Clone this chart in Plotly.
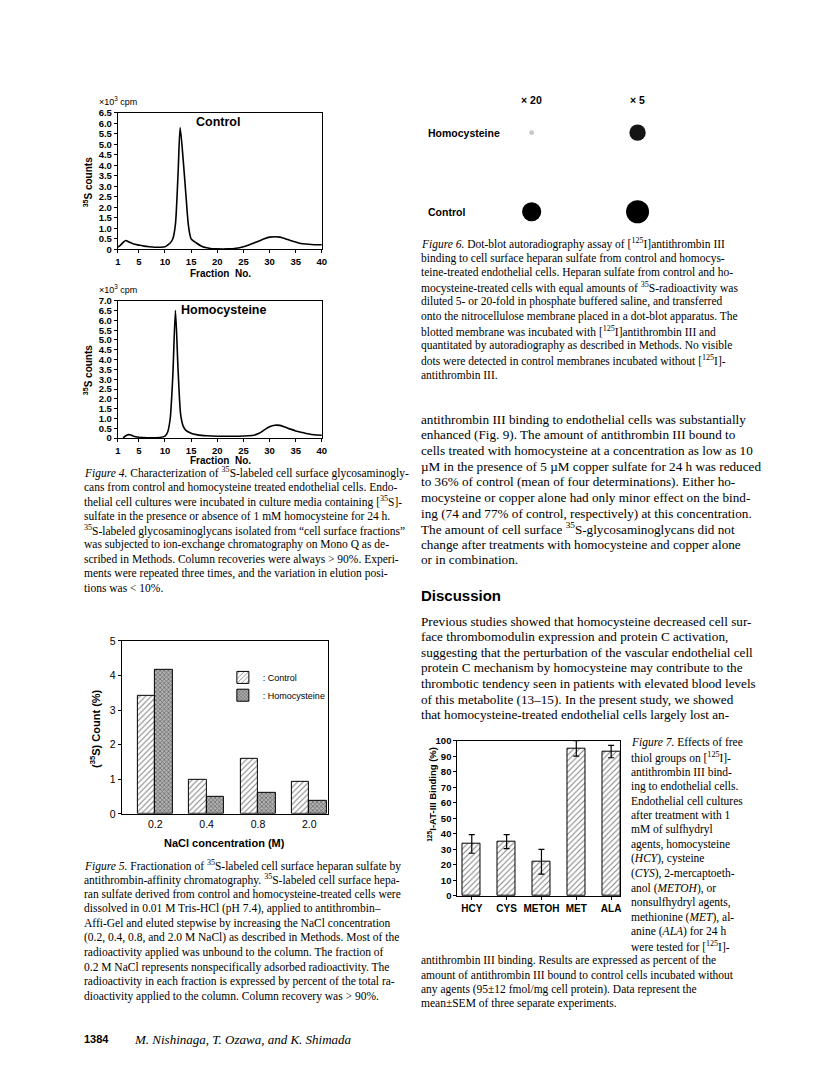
import plotly.graph_objects as go

# page is rendered with the default 8px body margin -> compensate
OFF = 8
W, H = 816 - 2 * OFF, 1078 - 2 * OFF
def px(x): return (x - OFF) / W
def py(y): return 1 - (y - OFF) / H

SANS = "Liberation Sans"
SERIF = "Liberation Serif"

# ---------------- DATA ----------------
# Figure 4 - Mono Q elution profiles (x10^3 cpm)
frac_control = [1, 1.5, 2, 2.5, 3, 4, 5, 6, 7, 8, 9, 10, 10.5, 11, 11.5, 12, 12.5, 12.9, 13.5, 14, 14.5,
                15, 16, 17, 18, 19, 20, 22, 23, 24, 25, 26, 27, 28, 29, 30, 31, 32, 33, 34, 35, 36, 37, 38, 39, 40]
counts_control = [0.1, 0.2, 0.33, 0.42, 0.36, 0.25, 0.2, 0.15, 0.12, 0.1, 0.1, 0.12, 0.2, 0.3, 0.5, 1.2, 3.6, 5.8, 4.2, 2.6, 1.1,
                  0.5, 0.3, 0.15, 0.07, 0.03, 0.02, 0.02, 0.03, 0.06, 0.12, 0.2, 0.3, 0.4, 0.5, 0.58, 0.6, 0.58, 0.5, 0.42,
                  0.35, 0.28, 0.25, 0.23, 0.22, 0.22]
frac_homo = [2, 2.5, 3, 3.5, 4, 5, 6, 7, 8, 9, 10, 10.5, 11, 11.5, 12, 12.5, 13, 13.5, 14, 15, 16, 17, 18, 20,
             22, 24, 26, 27, 28, 29, 30, 31, 32, 33, 34, 35, 36, 37, 38, 39, 40]
counts_homo = [0.02, 0.12, 0.18, 0.16, 0.1, 0.05, 0.03, 0.02, 0.02, 0.03, 0.1, 0.3, 1.0, 3.2, 6.5, 3.5, 1.2, 0.6, 0.4,
               0.25, 0.18, 0.14, 0.12, 0.1, 0.1, 0.1, 0.12, 0.15, 0.25, 0.42, 0.58, 0.66, 0.65, 0.56, 0.46, 0.37, 0.3,
               0.24, 0.19, 0.16, 0.15]
fig4_xticks = [1, 5, 10, 15, 20, 25, 30, 35, 40]
fig4a_yticks = [0, 0.5, 1.0, 1.5, 2.0, 2.5, 3.0, 3.5, 4.0, 4.5, 5.0, 5.5, 6.0, 6.5]
fig4b_yticks = [0, 0.5, 1.0, 1.5, 2.0, 2.5, 3.0, 3.5, 4.0, 4.5, 5.0, 5.5, 6.0, 6.5, 7.0]

# Figure 5 - antithrombin affinity fractions (% of total)
nacl_conc = ["0.2", "0.4", "0.8", "2.0"]
nacl_control = [3.42, 0.98, 1.60, 0.92]
nacl_homo = [4.15, 0.50, 0.60, 0.37]

# Figure 6 - dot blot signal (rows: sample, cols: dilution)
dot_dilution = ["× 20", "× 5"]
dot_sample = ["Control", "Homocysteine"]
dot_signal = [[0.80, 1.00],
              [0.05, 0.65]]

# Figure 7 - 125I-AT-III binding (%)
agents = ["HCY", "CYS", "METOH", "MET", "ALA"]
binding_pct = [33.5, 35.0, 22.0, 95.0, 93.0]
binding_sem = [6.0, 4.5, 8.0, 5.0, 4.0]

# ---------------- FIGURE ----------------
fig = go.Figure()

line_style = dict(color="black", width=1.6, shape="spline", smoothing=0.7)
fig.add_trace(go.Scatter(x=frac_control, y=counts_control, mode="lines", line=line_style,
                         xaxis="x", yaxis="y", showlegend=False))
fig.add_trace(go.Scatter(x=frac_homo, y=counts_homo, mode="lines", line=line_style,
                         xaxis="x2", yaxis="y2", showlegend=False))

idx5 = list(range(len(nacl_conc)))
fig.add_trace(go.Bar(x=idx5, y=nacl_control, width=0.34, offset=-0.34, name=": Control",
                     marker=dict(color="white", line=dict(color="black", width=1),
                                 pattern=dict(shape="/", fgcolor="black", bgcolor="white", size=4, solidity=0.25)),
                     xaxis="x3", yaxis="y3", legend="legend"))
fig.add_trace(go.Bar(x=idx5, y=nacl_homo, width=0.34, offset=0, name=": Homocysteine",
                     marker=dict(color="white", line=dict(color="black", width=1),
                                 pattern=dict(shape="x", fgcolor="#2a2a2a", bgcolor="#b0b0b0", size=3, solidity=0.45)),
                     xaxis="x3", yaxis="y3", legend="legend2"))

idx7 = list(range(len(agents)))
fig.add_trace(go.Bar(x=idx7, y=binding_pct, width=0.51,
                     marker=dict(color="white", line=dict(color="black", width=1),
                                 pattern=dict(shape="/", fgcolor="black", bgcolor="white", size=4, solidity=0.25)),
                     error_y=dict(type="data", array=binding_sem, color="black", thickness=1.2, width=3),
                     xaxis="x4", yaxis="y4", showlegend=False))

# dot blot
dx, dy, sig = [], [], []
for i, row in enumerate(dot_signal):
    for j, v in enumerate(row):
        dx.append(j); dy.append(i); sig.append(v)
dot_cols = ["#000000" if v >= 0.75 else ("#151515" if v >= 0.5 else "#c8c8c8") for v in sig]
fig.add_trace(go.Scatter(x=dx, y=dy, mode="markers", xaxis="x5", yaxis="y5", showlegend=False,
                         marker=dict(size=[4 + 19 * v for v in sig], color=dot_cols, opacity=1,
                                     line=dict(width=0))))

def dom_x(a, b): return [px(a), px(b)]
def dom_y(top, bottom): return [py(bottom), py(top)]

tickfont = dict(family=SANS, size=9.5, color="black", weight="bold")
ax_common = dict(showline=True, linecolor="black", linewidth=1.3, mirror=True, showgrid=False,
                 zeroline=False, ticks="outside", ticklen=3, tickwidth=1, tickcolor="black", tickfont=tickfont)
plainfont = dict(family=SANS, size=10.5, color="black")

layout = dict(
    width=W, height=H, margin=dict(l=0, r=0, t=0, b=0),
    paper_bgcolor="white", plot_bgcolor="white",
    xaxis=dict(domain=dom_x(116, 322), range=[1, 40], tickvals=fig4_xticks, anchor="y", **ax_common),
    yaxis=dict(domain=dom_y(108, 246), range=[0, 6.5], tickvals=fig4a_yticks,
               ticktext=["0"] + ["%.1f" % v for v in fig4a_yticks[1:]], anchor="x", **ax_common),
    xaxis2=dict(domain=dom_x(116, 322), range=[1, 40], tickvals=fig4_xticks, anchor="y2", **ax_common),
    yaxis2=dict(domain=dom_y(298, 437), range=[0, 7.0], tickvals=fig4b_yticks,
                ticktext=["0"] + ["%.1f" % v for v in fig4b_yticks[1:]], anchor="x2", **ax_common),
    xaxis3=dict(domain=dom_x(120, 328), range=[-0.65, 3.36], tickvals=idx5, ticktext=nacl_conc, anchor="y3",
                **{**ax_common, "ticks": "", "tickfont": plainfont}),
    yaxis3=dict(domain=dom_y(642, 817), range=[0, 5], tickvals=[0, 1, 2, 3, 4, 5], anchor="x3",
                **{**ax_common, "tickfont": plainfont}),
    xaxis4=dict(domain=dom_x(459, 623), range=[-0.41, 4.25], tickvals=idx7, ticktext=agents, anchor="y4",
                **{**ax_common, "tickfont": dict(family=SANS, size=10, color="black", weight="bold")}),
    yaxis4=dict(domain=dom_y(743, 900), range=[0, 100], tickvals=list(range(0, 101, 10)), anchor="x4",
                **{**ax_common, "tickfont": dict(family=SANS, size=9.5, color="black", weight="bold")}),
    xaxis5=dict(domain=dom_x(420, 750), range=[-1.065, 2.02], visible=False, anchor="y5"),
    yaxis5=dict(domain=dom_y(90, 250), range=[-0.525, 1.475], visible=False, anchor="x5"),
    legend=dict(x=px(222), y=py(679), xanchor="left", yanchor="middle", bgcolor="rgba(0,0,0,0)",
                font=dict(family=SANS, size=9, color="black"), itemwidth=30),
    legend2=dict(x=px(222), y=py(697), xanchor="left", yanchor="middle", bgcolor="rgba(0,0,0,0)",
                 font=dict(family=SANS, size=9, color="black"), itemwidth=30),
    bargap=0,
)
fig.update_layout(**layout)

ann = []
def txt(x, y, s, size=11.5, family=SERIF, anchor="left", angle=0, weight="normal"):
    ann.append(dict(x=px(x), y=py(y), xref="paper", yref="paper", text=s, showarrow=False,
                    xanchor=anchor, yanchor="middle", textangle=angle,
                    font=dict(family=family, size=size, color="black", weight=weight)))

def block(x, y0, step, lines, size=11.5):
    for i, s in enumerate(lines):
        txt(x, y0 + i * step, s, size=size)

# Figure 4 labels
txt(95, 96, "×10<sup>3</sup> cpm", size=9, family=SANS)
txt(95, 286, "×10<sup>3</sup> cpm", size=9, family=SANS)
txt(217, 117, "Control", size=12.5, family=SANS, anchor="center", weight="bold")
txt(223, 307, "Homocysteine", size=12.5, family=SANS, anchor="center", weight="bold")
txt(86, 178, "<sup>35</sup>S counts", size=10, family=SANS, anchor="center", angle=-90, weight="bold")
txt(86, 368, "<sup>35</sup>S counts", size=10, family=SANS, anchor="center", angle=-90, weight="bold")
txt(220, 270, "Fraction  No.", size=10, family=SANS, anchor="center", weight="bold")
txt(220, 459.5, "Fraction  No.", size=10, family=SANS, anchor="center", weight="bold")

block(80, 472, 14.6, [
    "<i>Figure 4.</i> Characterization of <sup>35</sup>S-labeled cell surface glycosaminogly-",
    "cans from control and homocysteine treated endothelial cells. Endo-",
    "thelial cell cultures were incubated in culture media containing [<sup>35</sup>S]-",
    "sulfate in the presence or absence of 1 mM homocysteine for 24 h.",
    "<sup>35</sup>S-labeled glycosaminoglycans isolated from “cell surface fractions”",
    "was subjected to ion-exchange chromatography on Mono Q as de-",
    "scribed in Methods. Column recoveries were always > 90%. Experi-",
    "ments were repeated three times, and the variation in elution posi-",
    "tions was < 10%.",
])

# Figure 5 labels
txt(93, 731, "(<sup>35</sup>S) Count (%)", size=11, family=SANS, anchor="center", angle=-90, weight="bold")
txt(224, 846, "NaCl concentration (M)", size=11, family=SANS, anchor="center", weight="bold")
block(80, 869, 14.7, [
    "<i>Figure 5.</i> Fractionation of <sup>35</sup>S-labeled cell surface heparan sulfate by",
    "antithrombin-affinity chromatography. <sup>35</sup>S-labeled cell surface hepa-",
    "ran sulfate derived from control and homocysteine-treated cells were",
    "dissolved in 0.01 M Tris-HCl (pH 7.4), applied to antithrombin–",
    "Affi-Gel and eluted stepwise by increasing the NaCl concentration",
    "(0.2, 0.4, 0.8, and 2.0 M NaCl) as described in Methods. Most of the",
    "radioactivity applied was unbound to the column. The fraction of",
    "0.2 M NaCl represents nonspecifically adsorbed radioactivity. The",
    "radioactivity in each fraction is expressed by percent of the total ra-",
    "dioactivity applied to the column. Column recovery was > 90%.",
])

# Footer
txt(80, 1045, "1384", size=11, family=SANS, weight="bold")
txt(130, 1045, "<i>M. Nishinaga, T. Ozawa, and K. Shimada</i>", size=13)

# Figure 6 labels (dot blot)
for j, lab in enumerate(dot_dilution):
    ann.append(dict(x=j, y=1.41, xref="x5", yref="y5", text=lab, showarrow=False, xanchor="center",
                    font=dict(family=SANS, size=10.5, color="black", weight="bold")))
for i, lab in enumerate(dot_sample):
    ann.append(dict(x=px(427), y=i, xref="paper", yref="y5", text=lab, showarrow=False, xanchor="left",
                    font=dict(family=SANS, size=10.5, color="black", weight="bold")))

block(420, 240, 14.8, [
    "<i>Figure 6.</i> Dot-blot autoradiography assay of [<sup>125</sup>I]antithrombin III",
    "binding to cell surface heparan sulfate from control and homocys-",
    "teine-treated endothelial cells. Heparan sulfate from control and ho-",
    "mocysteine-treated cells with equal amounts of <sup>35</sup>S-radioactivity was",
    "diluted 5- or 20-fold in phosphate buffered saline, and transferred",
    "onto the nitrocellulose membrane placed in a dot-blot apparatus. The",
    "blotted membrane was incubated with [<sup>125</sup>I]antithrombin III and",
    "quantitated by autoradiography as described in Methods. No visible",
    "dots were detected in control membranes incubated without [<sup>125</sup>I]-",
    "antithrombin III.",
])

block(420, 418, 15.8, [
    "antithrombin III binding to endothelial cells was substantially",
    "enhanced (Fig. 9). The amount of antithrombin III bound to",
    "cells treated with homocysteine at a concentration as low as 10",
    "µM in the presence of 5 µM copper sulfate for 24 h was reduced",
    "to 36% of control (mean of four determinations). Either ho-",
    "mocysteine or copper alone had only minor effect on the bind-",
    "ing (74 and 77% of control, respectively) at this concentration.",
    "The amount of cell surface <sup>35</sup>S-glycosaminoglycans did not",
    "change after treatments with homocysteine and copper alone",
    "or in combination.",
], size=13.2)

txt(420, 596, "Discussion", size=15, family=SANS, weight="bold")

block(420, 622, 15.8, [
    "Previous studies showed that homocysteine decreased cell sur-",
    "face thrombomodulin expression and protein C activation,",
    "suggesting that the perturbation of the vascular endothelial cell",
    "protein C mechanism by homocysteine may contribute to the",
    "thrombotic tendency seen in patients with elevated blood levels",
    "of this metabolite (13–15). In the present study, we showed",
    "that homocysteine-treated endothelial cells largely lost an-",
], size=13.2)

# Figure 7 labels
txt(433, 797, "<sup>125</sup>I-AT-III Binding (%)", size=9.5, family=SANS, anchor="center", angle=-90, weight="bold")
block(632, 745, 14.7, [
    "<i>Figure 7.</i> Effects of free",
    "thiol groups on [<sup>125</sup>I]-",
    "antithrombin III bind-",
    "ing to endothelial cells.",
    "Endothelial cell cultures",
    "after treatment with 1",
    "mM of sulfhydryl",
    "agents, homocysteine",
    "(<i>HCY</i>), cysteine",
    "(<i>CYS</i>), 2-mercaptoeth-",
    "anol (<i>METOH</i>), or",
    "nonsulfhydryl agents,",
    "methionine (<i>MET</i>), al-",
    "anine (<i>ALA</i>) for 24 h",
    "were tested for [<sup>125</sup>I]-",
])
block(420, 965, 14.7, [
    "antithrombin III binding. Results are expressed as percent of the",
    "amount of antithrombin III bound to control cells incubated without",
    "any agents (95±12 fmol/mg cell protein). Data represent the",
    "mean±SEM of three separate experiments.",
])

fig.update_layout(annotations=ann)
fig.write_html("out.html")
